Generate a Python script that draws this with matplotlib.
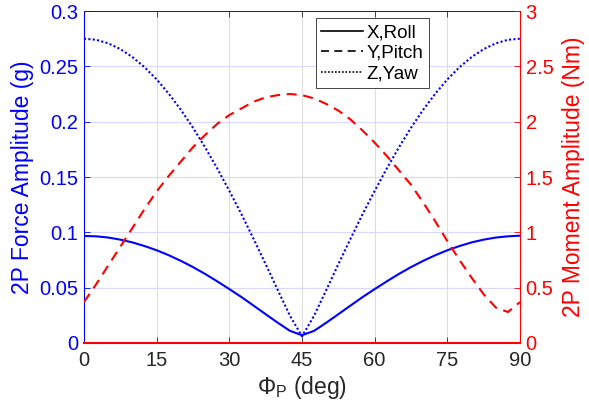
import numpy as np
import matplotlib
matplotlib.use('Agg')
import matplotlib.pyplot as plt
from matplotlib.lines import Line2D

plt.rcParams['font.family'] = ['Liberation Sans', 'DejaVu Sans']
plt.rcParams['mathtext.fontset'] = 'custom'
plt.rcParams['mathtext.rm'] = 'Liberation Sans'
plt.rcParams['mathtext.it'] = 'Liberation Sans:italic'

# 위상각 (deg)
phi = np.arange(0, 92.5, 2.5)

# 2P 힘 진폭 (g)
force_roll = [0.0967, 0.0964, 0.0953, 0.0934, 0.0909, 0.0876, 0.0838, 0.0793, 0.0742,
              0.0686, 0.0624, 0.0557, 0.0487, 0.0415, 0.0338, 0.0260, 0.0183, 0.0110,
              0.0070,
              0.0110, 0.0183, 0.0260, 0.0338, 0.0415, 0.0487, 0.0557, 0.0624, 0.0686,
              0.0742, 0.0793, 0.0838, 0.0876, 0.0909, 0.0934, 0.0953, 0.0964, 0.0970]
force_yaw = [0.2750, 0.2740, 0.2708, 0.2656, 0.2584, 0.2492, 0.2382, 0.2253, 0.2107,
             0.1945, 0.1768, 0.1577, 0.1375, 0.1164, 0.0941, 0.0712, 0.0478, 0.0247,
             0.0060,
             0.0247, 0.0478, 0.0712, 0.0941, 0.1164, 0.1375, 0.1577, 0.1768, 0.1945,
             0.2107, 0.2253, 0.2382, 0.2492, 0.2584, 0.2656, 0.2708, 0.2740, 0.2750]

# 2P 모멘트 진폭 (Nm)
moment_roll = [0.0] * 37
moment_pitch = [0.37, 0.53, 0.70, 0.87, 1.04, 1.21, 1.37, 1.51, 1.64, 1.77, 1.88, 1.98,
                2.06, 2.12, 2.18, 2.22, 2.24, 2.25, 2.24, 2.21, 2.16, 2.10, 2.02, 1.92,
                1.81, 1.69, 1.56, 1.43, 1.27, 1.10, 0.92, 0.75, 0.59, 0.44, 0.32, 0.28,
                0.37]

x_ticks = [0, 15, 30, 45, 60, 75, 90]
force_ticks = [0, 0.05, 0.1, 0.15, 0.2, 0.25, 0.3]
force_ticklabels = ['0', '0.05', '0.1', '0.15', '0.2', '0.25', '0.3']
moment_ticks = [0, 0.5, 1, 1.5, 2, 2.5, 3]
moment_ticklabels = ['0', '0.5', '1', '1.5', '2', '2.5', '3']

BLUE = (0, 0, 1)
RED = (1, 0, 0)
DARK = (0.15, 0.15, 0.15)

fig = plt.figure(figsize=(5.89, 4.19), dpi=100)
ax1 = fig.add_axes([0.1426, 0.1814, 0.7403, 0.7923])
ax2 = ax1.twinx()

# 왼쪽 축: 힘
ax1.plot(phi, force_roll, color=BLUE, lw=1.5, ls='-')
ax1.plot(phi, force_yaw, color=BLUE, lw=1.5, ls=(0, (1.0, 1.1)))
ax1.set_xlim(0, 90)
ax1.set_ylim(0, 0.3)
ax1.set_xticks(x_ticks)
ax1.set_yticks(force_ticks)
ax1.set_yticklabels(force_ticklabels)
ax1.grid(axis='x', color='#dedede', lw=0.8)
ax1.grid(axis='y', color='#d9d9ff', lw=0.8)
ax1.set_axisbelow(True)
ax1.tick_params(axis='x', direction='in', top=True, length=4, width=0.6,
                color=DARK, labelcolor=DARK, labelsize=14.5, pad=6)
ax1.tick_params(axis='y', direction='in', length=4, width=0.6,
                color=BLUE, labelcolor=BLUE, labelsize=14.5, pad=4)
ax1.set_ylabel('2P Force Amplitude (g)', color=BLUE, fontsize=16.5, labelpad=4)
ax1.set_xlabel(r'$\mathrm{\Phi_P}$ (deg)', color=DARK, fontsize=16.5, labelpad=3)

# 오른쪽 축: 모멘트
ax2.plot(phi, moment_pitch, color=RED, lw=1.5, ls=(0, (4.8, 3.2)))
ax2.plot(phi, moment_roll, color=RED, lw=1.5, ls='-', clip_on=False, zorder=5)
ax2.set_ylim(0, 3)
ax2.set_yticks(moment_ticks)
ax2.set_yticklabels(moment_ticklabels)
ax2.tick_params(axis='y', direction='in', length=4, width=0.6,
                color=RED, labelcolor=RED, labelsize=14.5, pad=4)
ax2.set_ylabel('2P Moment Amplitude (Nm)', color=RED, fontsize=16.5, labelpad=6)

for name in ['top', 'bottom']:
    ax1.spines[name].set_color(DARK)
    ax1.spines[name].set_linewidth(0.7)
    ax2.spines[name].set_visible(False)
ax1.spines['left'].set_color(BLUE)
ax1.spines['left'].set_linewidth(0.8)
ax1.spines['right'].set_visible(False)
ax2.spines['left'].set_visible(False)
ax2.spines['right'].set_color(RED)
ax2.spines['right'].set_linewidth(0.8)

# 범례 (검정 선 스타일)
handles = [Line2D([], [], color='black', lw=1.2, ls='-'),
           Line2D([], [], color='black', lw=1.2, ls=(0, (4.8, 3.2))),
           Line2D([], [], color='black', lw=1.2, ls=(0, (1.0, 1.1)))]
leg = ax2.legend(handles, ['X,Roll', 'Y,Pitch', 'Z,Yaw'], loc='upper left',
                 bbox_to_anchor=(0.531, 0.978), borderaxespad=0, fontsize=13.5,
                 handlelength=2.25, handletextpad=0.15, labelspacing=0.2,
                 borderpad=0.3, fancybox=False, framealpha=1, edgecolor=DARK)
leg.get_frame().set_linewidth(0.6)

fig.savefig('out.png', dpi=100, facecolor='white')
